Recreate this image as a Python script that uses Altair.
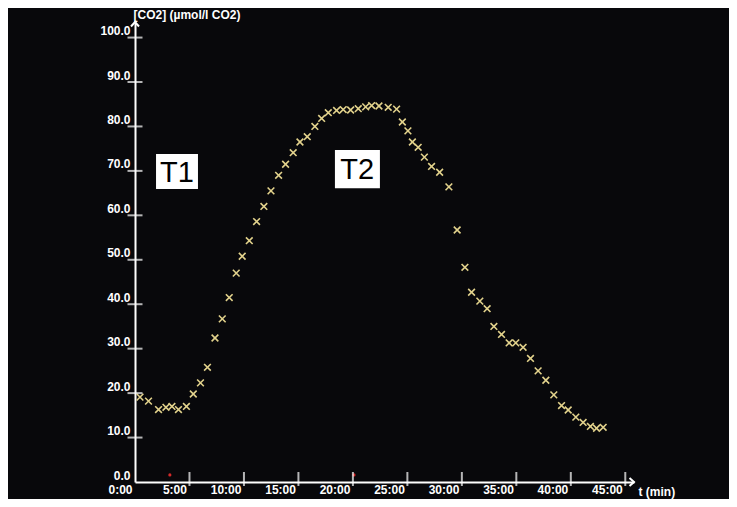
import altair as alt
import pandas as pd

# measured CO2 concentration over time
t_min = [0.46, 1.24, 2.16, 2.84, 3.39, 3.99, 4.72, 5.35, 6.01, 6.65,
         7.34, 8.01, 8.65, 9.29, 9.84, 10.49, 11.16, 11.83, 12.48, 13.18,
         13.82, 14.52, 15.14, 15.81, 16.51, 17.13, 17.74, 18.5, 19.11, 19.79,
         20.49, 21.17, 21.72, 22.39, 23.24, 24.01, 24.54, 25.05, 25.46, 25.99,
         26.56, 27.22, 27.96, 28.81, 29.57, 30.28, 30.89, 31.65, 32.32, 32.94,
         33.64, 34.34, 34.95, 35.62, 36.3, 37.0, 37.71, 38.44, 39.15, 39.76,
         40.46, 41.13, 41.8, 42.36, 42.97]
co2 = [19.1, 18.2, 16.3, 16.8, 17.0, 16.3, 17.0, 19.8, 22.3, 25.8,
       32.4, 36.7, 41.5, 47.0, 50.8, 54.3, 58.6, 62.0, 65.5, 69.0,
       71.5, 74.1, 76.5, 77.7, 80.0, 81.8, 83.1, 83.6, 83.8, 83.7,
       84.0, 84.4, 84.7, 84.6, 84.3, 83.9, 81.0, 79.0, 76.5, 75.3,
       73.1, 71.0, 69.7, 66.4, 56.7, 48.3, 42.7, 40.7, 39.0, 35.0,
       33.2, 31.3, 31.3, 30.3, 27.8, 25.0, 22.9, 19.6, 17.2, 16.2,
       14.6, 13.4, 12.5, 12.1, 12.3]

y_ticks = [0, 10, 20, 30, 40, 50, 60, 70, 80, 90, 100]
x_ticks = [0, 5, 10, 15, 20, 25, 30, 35, 40, 45]

# annotation boxes
ann_text = ["T1", "T2"]
ann_t = [3.85, 20.4]
ann_v = [69.8, 70.4]
box_t0 = [1.93, 18.35]
box_t1 = [5.78, 22.48]
box_v0 = [65.9, 66.1]
box_v1 = [73.8, 74.7]

# small red time markers on the x axis
mark_t = [3.2, 20.1]
mark_v = [1.6, 1.6]

X_MAX = 45.8
Y_MAX = 103.5
FONT = "Liberation Sans"

xscale = alt.Scale(domain=[0, X_MAX], nice=False, zero=False)
yscale = alt.Scale(domain=[0, Y_MAX], nice=False, zero=False)

x_axis = alt.Axis(values=x_ticks, labelExpr="datum.value + ':00'", ticks=False,
                  domainColor="white", domainWidth=2, grid=False,
                  labelColor="white", labelFont=FONT, labelFontWeight="bold",
                  labelFontSize=12, labelAlign="right", labelBaseline="top",
                  labelOffset=-3, labelPadding=2, labelOverlap=False, labelFlush=False,
                  title="t (min)", titleAngle=0, titleAlign="left",
                  titleBaseline="middle", titleX=503, titleY=9,
                  titleColor="white", titleFont=FONT, titleFontSize=12,
                  titleFontWeight="bold")
y_axis = alt.Axis(values=y_ticks, format=".1f", ticks=False,
                  domainColor="white", domainWidth=2, grid=False,
                  labelColor="white", labelFont=FONT, labelFontWeight="bold",
                  labelFontSize=12, labelAlign="right", labelBaseline="bottom",
                  labelPadding=5, labelOverlap=False, labelFlush=False,
                  title="[CO2] (µmol/l CO2)", titleAngle=0, titleAlign="left",
                  titleBaseline="middle", titleX=-2, titleY=-8,
                  titleColor="white", titleFont=FONT, titleFontSize=12,
                  titleFontWeight="bold")


def X(field):
    return alt.X(f"{field}:Q", scale=xscale, axis=x_axis)


def Y(field):
    return alt.Y(f"{field}:Q", scale=yscale, axis=y_axis)


df = pd.DataFrame({"t": t_min, "v": co2})
points = alt.Chart(df).mark_point(
    shape="M-1,-1L1,1M-1,1L1,-1", filled=False, stroke="#e2d28c",
    strokeWidth=1.6, size=45, opacity=1
).encode(x=X("t"), y=Y("v"))

ytick_df = pd.DataFrame({"t": [0] * (len(y_ticks) - 1), "v": y_ticks[1:]})
yticks = alt.Chart(ytick_df).mark_tick(
    orient="horizontal", color="white", size=15, thickness=2
).encode(x=X("t"), y=Y("v"))

xtick_df = pd.DataFrame({"t": x_ticks[1:], "v": [0] * (len(x_ticks) - 1)})
xticks = alt.Chart(xtick_df).mark_tick(
    orient="vertical", color="white", size=14, thickness=2, yOffset=-3
).encode(x=X("t"), y=Y("v"))

arrow_up = alt.Chart(pd.DataFrame({"t": [0], "v": [Y_MAX]})).mark_point(
    shape="M-0.8,0.9L0,0L0.8,0.9", filled=False, stroke="white",
    strokeWidth=2, size=100, opacity=1
).encode(x=X("t"), y=Y("v"))

arrow_right = alt.Chart(pd.DataFrame({"t": [X_MAX], "v": [0]})).mark_point(
    shape="M-0.9,-0.8L0,0L-0.9,0.8", filled=False, stroke="white",
    strokeWidth=2, size=100, opacity=1
).encode(x=X("t"), y=Y("v"))

red = alt.Chart(pd.DataFrame({"t": mark_t, "v": mark_v})).mark_point(
    shape="circle", filled=True, color="#d42a2a", size=10, opacity=1
).encode(x=X("t"), y=Y("v"))

box_df = pd.DataFrame({"t": box_t0, "t2": box_t1, "v": box_v0, "v2": box_v1})
boxes = alt.Chart(box_df).mark_rect(color="white").encode(
    x=X("t"), x2="t2:Q", y=Y("v"), y2="v2:Q")

txt_df = pd.DataFrame({"t": ann_t, "v": ann_v, "label": ann_text})
texts = alt.Chart(txt_df).mark_text(
    font=FONT, fontSize=29, color="black", align="center", baseline="middle", dy=1
).encode(x=X("t"), y=Y("v"), text="label:N")

chart = alt.layer(boxes, texts, red, points, yticks, xticks, arrow_up, arrow_right).properties(
    width=499, height=460,
    padding={"left": 127, "top": 14, "right": 95, "bottom": 17},
    autosize=alt.AutoSizeParams(type="none"),
    background="#08080b",
).configure_view(stroke=None)

chart.save("out.html", embed_options={"renderer": "svg", "actions": False})
